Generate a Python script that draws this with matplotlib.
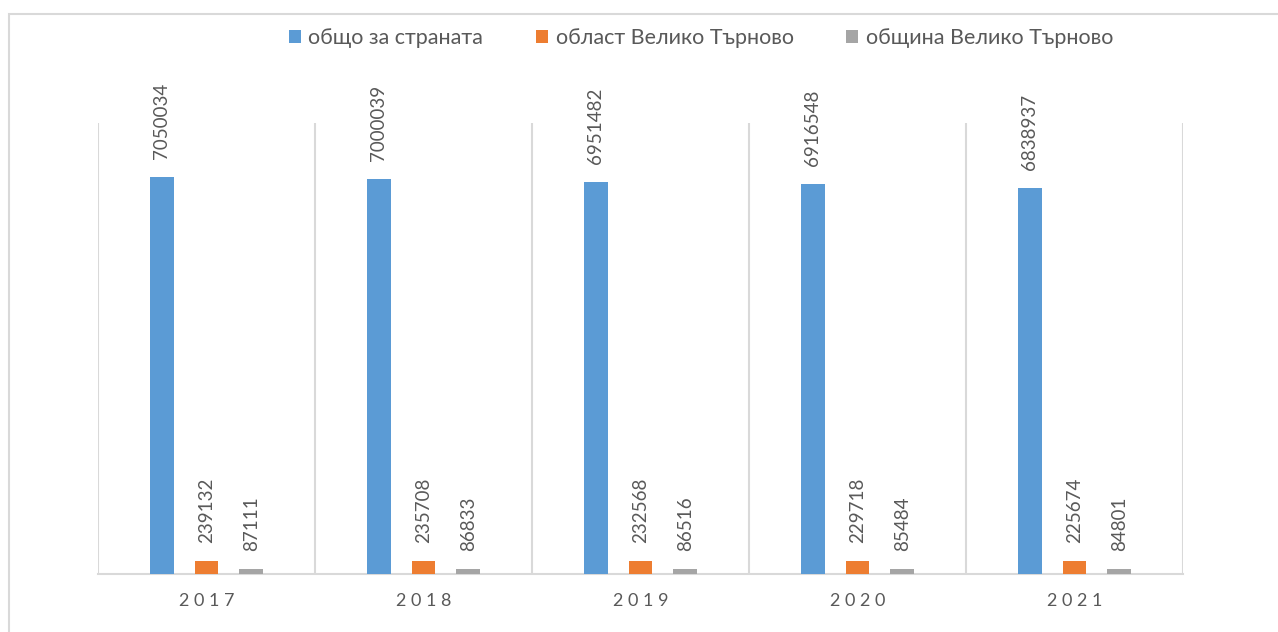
import numpy as np
import matplotlib
matplotlib.use('Agg')
import matplotlib.pyplot as plt
from matplotlib.patches import Rectangle

###############################
# Data

years = ['2017', '2018', '2019', '2020', '2021']
series_names = ['общо за страната', 'област Велико Търново', 'община Велико Търново']
country = [7050034, 7000039, 6951482, 6916548, 6838937]
region = [239132, 235708, 232568, 229718, 225674]
municipality = [87111, 86833, 86516, 85484, 84801]

###############################

colors = ['#5B9BD5', '#ED7D31', '#A5A5A5']
text_color = '#595959'
grid_color = '#D9D9D9'

plt.rcParams['font.family'] = ['Lato', 'DejaVu Sans']

fig = plt.figure(figsize=(12.78, 6.32), dpi=100)

# outer chart border
fig.patches.append(Rectangle((9 / 1278, -0.1), 1.2, 1.1 - 14 / 632,
                             transform=fig.transFigure, fill=False,
                             edgecolor=grid_color, linewidth=1.5))

axes = fig.add_axes([98 / 1278, 1 - 574 / 632, 1085 / 1278, 451 / 632])

x = np.arange(len(years))
width = 0.11
offset = 0.207

for i, (vals, name) in enumerate(zip([country, region, municipality], series_names)):
    pos = x + (i - 1) * offset
    bars = axes.bar(pos, vals, width=width, color=colors[i], label=name, zorder=3)
    for b, v in zip(bars, vals):
        axes.annotate(str(v), (b.get_x() + b.get_width() / 2, b.get_height()),
                      xytext=(0, 18), textcoords='offset pixels',
                      rotation=90, ha='center', va='bottom',
                      fontsize=13.5, color=text_color)

axes.set_xlim(-0.5, len(years) - 0.5)
axes.set_ylim(0, 8000000)

# category separators
axes.set_xticks(np.arange(-0.5, len(years)), minor=True)
axes.grid(which='minor', axis='x', color=grid_color, linewidth=1.5, zorder=0)
axes.set_xticks(x)
axes.set_xticklabels([' '.join(y) for y in years], fontsize=13, color=text_color)
axes.tick_params(axis='x', which='both', length=0, pad=14)
axes.set_yticks([])

for s in ['top', 'right', 'left']:
    axes.spines[s].set_visible(False)
axes.spines['bottom'].set_color(grid_color)
axes.spines['bottom'].set_linewidth(1.5)

leg = fig.legend(loc='center', bbox_to_anchor=(701 / 1278, 1 - 38 / 632), ncol=3,
                 frameon=False, fontsize=15.5, handlelength=0.56, handleheight=0.56,
                 handletextpad=0.35, columnspacing=2.45)
for t in leg.get_texts():
    t.set_color(text_color)

fig.savefig('out.png', dpi=100)
